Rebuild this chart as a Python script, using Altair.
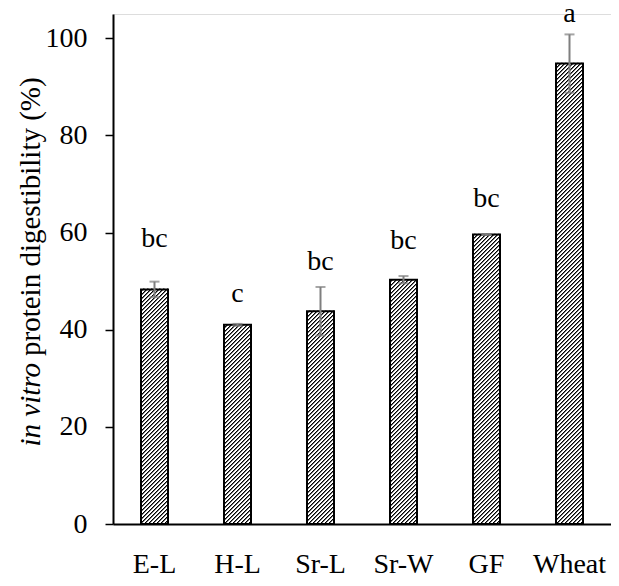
import math
import altair as alt
import pandas as pd

groups = ["E-L", "H-L", "Sr-L", "Sr-W", "GF", "Wheat"]
means = [48.3, 41.0, 43.8, 50.3, 59.6, 94.8]
errs = [1.6, 0.2, 5.0, 0.75, 0.1, 6.0]
letters = ["bc", "c", "bc", "bc", "bc", "a"]
letter_y = [57.0, 45.8, 52.2, 56.6, 65.3, 103.4]
y_ticks = [0, 20, 40, 60, 80, 100]
title_italic = ["in vitro"]
title_rest = ["protein digestibility (%)"]

STEP, BW, START = 83, 27, 28
N = len(groups)
W, H = STEP * N, 510
PL, PT, PR, PB = 105, 6, 0, 54
YMAX = 105
P_IN = (STEP - BW) / STEP
P_OUT = START / STEP
FONT = "Times New Roman, Liberation Serif, serif"
PERIOD, OFF = 4.0, 0.5
# one stripe period: (width in px, colour)
STRIPE = [(1.0, "black"), (1.0, "#707070"), (2.0, "white")]
SEG_MAX = 120.0
PX = H / YMAX

df = pd.DataFrame({
    "g": groups, "m": means,
    "lo": [m - e for m, e in zip(means, errs)],
    "hi": [m + e for m, e in zip(means, errs)],
    "lab": letters, "ly": letter_y,
})


def hatch(w, h, phase):
    L = w + h
    stops = []
    s = -phase
    while s < L:
        pos = s
        for wd, col in STRIPE:
            a = min(max(pos, 0), L) / L
            b = min(max(pos + wd, 0), L) / L
            stops += [{"offset": a, "color": col}, {"offset": b, "color": col}]
            pos += wd
        s += PERIOD
    den = w * w + h * h
    return {"gradient": "linear", "x1": 0, "y1": 0,
            "x2": w * L / den, "y2": h * L / den, "stops": stops}


yscale = alt.Scale(domain=[0, YMAX], nice=False)
xsc = alt.Scale(domain=groups, paddingInner=P_IN, paddingOuter=P_OUT)
xaxis = alt.Axis(labelAngle=0, labelAlign="center", ticks=False, domainColor="black",
                 domainWidth=2, labelFont=FONT, labelFontSize=28, labelColor="black",
                 labelBaseline="alphabetic", labelPadding=48, grid=False)
yaxis = alt.Axis(values=y_ticks, tickSize=8, tickColor="black", tickWidth=1.5,
                 domainColor="black", domainWidth=2, labelFont=FONT,
                 labelFontSize=28, labelColor="black", labelPadding=18, grid=False)

# hatched fill, drawn as stacked pieces so each gradient stays short
seg_rows = []
for gi, (g, m) in enumerate(zip(groups, means)):
    k = max(1, math.ceil(m * PX / SEG_MAX))
    for j in range(k):
        seg_rows.append((gi, g, m * j / k, m * (j + 1) / k))

seg_df = pd.DataFrame(seg_rows, columns=["gi", "g", "v0", "v1"])
seg_df["id"] = range(len(seg_df))

ext = 0.8 / PX
layers = []
for i, (gi, g, v0, v1) in enumerate(seg_rows):
    left_px = START + gi * STEP
    top_px = H - (v1 + ext) * PX
    hseg = (v1 + ext - v0) * PX
    phase = (left_px + top_px - OFF) % PERIOD
    layers.append(
        alt.Chart(seg_df).transform_filter(alt.datum.id == i)
        .transform_calculate(v1e=f"datum.v1 + {ext}")
        .mark_bar(fill=hatch(BW, hseg, phase), strokeWidth=0)
        .encode(x=alt.X("g:N", sort=groups, scale=xsc, title=None, axis=xaxis),
                y=alt.Y("v1e:Q", scale=yscale, title=None, axis=yaxis), y2="v0:Q")
    )

base = alt.Chart(df)
outline = base.mark_bar(fill=None, stroke="black", strokeWidth=2).encode(
    x=alt.X("g:N", sort=groups, title=None, scale=xsc, axis=xaxis),
    y=alt.Y("m:Q", title=None, scale=yscale, axis=yaxis))

err_rule = base.mark_rule(color="#7f7f7f", strokeWidth=2).encode(
    x=alt.X("g:N", sort=groups), y=alt.Y("lo:Q", scale=yscale), y2="hi:Q")
cap_hi = base.mark_tick(color="#7f7f7f", thickness=2, size=10).encode(
    x=alt.X("g:N", sort=groups), y=alt.Y("hi:Q", scale=yscale))
cap_lo = base.mark_tick(color="#7f7f7f", thickness=2, size=10).encode(
    x=alt.X("g:N", sort=groups), y=alt.Y("lo:Q", scale=yscale))

lab = base.mark_text(font=FONT, fontSize=28, color="black", baseline="alphabetic").encode(
    x=alt.X("g:N", sort=groups), y=alt.Y("ly:Q", scale=yscale), text="lab:N")

t1 = alt.Chart(pd.DataFrame({"t": title_italic})).mark_text(
    angle=270, align="right", baseline="middle", font=FONT, fontSize=29,
    fontStyle="italic", color="black").encode(
    x=alt.value(-82), y=alt.value(349), text="t:N")
t2 = alt.Chart(pd.DataFrame({"t": title_rest})).mark_text(
    angle=270, align="left", baseline="middle", font=FONT, fontSize=29,
    color="black").encode(
    x=alt.value(-82), y=alt.value(342), text="t:N")

chart = alt.layer(*layers, outline, err_rule, cap_hi, cap_lo, lab, t1, t2).properties(
    width=W, height=H,
    autosize=alt.AutoSizeParams(type="none"),
    padding={"left": PL, "top": PT, "right": PR, "bottom": PB},
).configure_view(stroke=None).configure(background="white")

chart.save("out.html", embed_options={"renderer": "svg", "actions": False})
